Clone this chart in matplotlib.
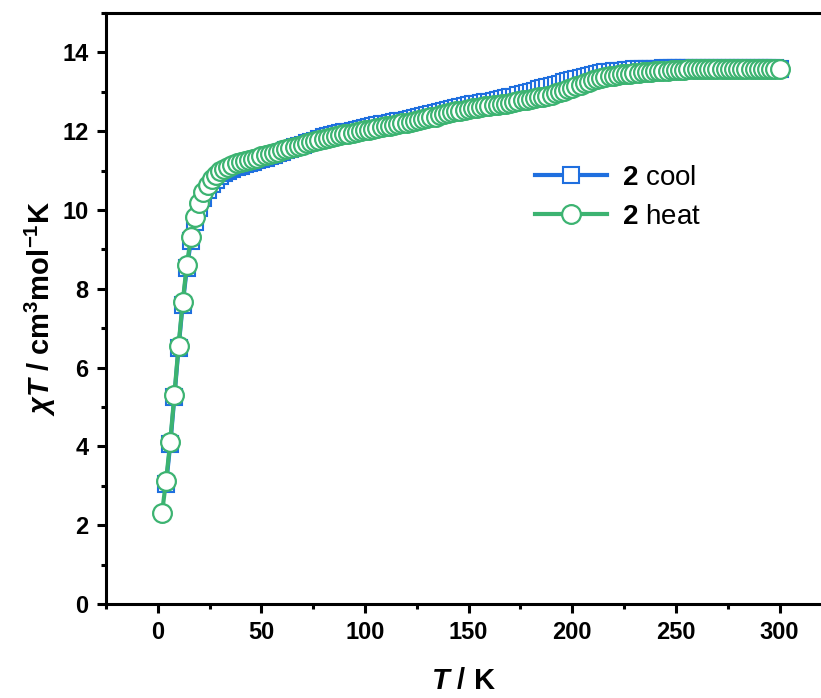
import numpy as np
import matplotlib
matplotlib.use("Agg")
import matplotlib.pyplot as plt
from matplotlib.ticker import MultipleLocator

plt.rcParams["font.family"] = ["Liberation Sans", "DejaVu Sans"]
plt.rcParams["mathtext.fontset"] = "custom"
plt.rcParams["mathtext.rm"] = "Liberation Sans:bold"
plt.rcParams["mathtext.bf"] = "Liberation Sans:bold"
plt.rcParams["mathtext.it"] = "Liberation Sans:bold:italic"

# measured temperature grid (K)
t_heat = np.arange(2, 301, 2)
t_cool = np.arange(4, 301, 2)

# chi*T (cm3 mol-1 K)
chiT_heat = [
    2.30, 3.13, 4.12, 5.31, 6.55, 7.66, 8.60, 9.32, 9.81, 10.18,
    10.45, 10.63, 10.78, 10.90, 10.99, 11.05, 11.10, 11.14, 11.18, 11.21,
    11.24, 11.27, 11.30, 11.33, 11.36, 11.39, 11.42, 11.45, 11.48, 11.51,
    11.54, 11.57, 11.60, 11.63, 11.66, 11.69, 11.72, 11.75, 11.78, 11.81,
    11.83, 11.86, 11.88, 11.90, 11.92, 11.94, 11.96, 11.98, 12.00, 12.02,
    12.04, 12.06, 12.08, 12.10, 12.12, 12.14, 12.16, 12.18, 12.20, 12.22,
    12.24, 12.26, 12.28, 12.30, 12.33, 12.35, 12.37, 12.40, 12.43, 12.46,
    12.48, 12.50, 12.52, 12.54, 12.56, 12.58, 12.60, 12.61, 12.63, 12.64,
    12.66, 12.67, 12.69, 12.70, 12.72, 12.74, 12.76, 12.78, 12.80, 12.82,
    12.84, 12.86, 12.88, 12.90, 12.93, 12.96, 12.99, 13.02, 13.06, 13.10,
    13.14, 13.18, 13.22, 13.26, 13.29, 13.32, 13.35, 13.37, 13.39, 13.41,
    13.43, 13.44, 13.45, 13.46, 13.47, 13.48, 13.49, 13.50, 13.51, 13.52,
    13.53, 13.54, 13.54, 13.55, 13.55, 13.56, 13.56, 13.57, 13.57, 13.57,
    13.58, 13.58, 13.58, 13.58, 13.58, 13.58, 13.58, 13.58, 13.58, 13.58,
    13.58, 13.58, 13.59, 13.59, 13.59, 13.59, 13.59, 13.59, 13.59, 13.59,
]
chiT_cool = [
    3.05, 4.05, 5.25, 6.50, 7.60, 8.52, 9.22, 9.70, 10.05,
    10.30, 10.50, 10.65, 10.77, 10.86, 10.93, 10.99, 11.04, 11.08, 11.12,
    11.17, 11.20, 11.23, 11.26, 11.29, 11.33, 11.36, 11.40, 11.44, 11.47,
    11.51, 11.55, 11.59, 11.62, 11.66, 11.69, 11.73, 11.76, 11.80, 11.84,
    11.87, 11.90, 11.92, 11.95, 11.97, 11.99, 12.01, 12.04, 12.06, 12.08,
    12.11, 12.13, 12.15, 12.17, 12.19, 12.21, 12.23, 12.25, 12.27, 12.29,
    12.32, 12.34, 12.36, 12.39, 12.41, 12.43, 12.46, 12.48, 12.51, 12.54,
    12.57, 12.59, 12.61, 12.64, 12.66, 12.68, 12.70, 12.72, 12.74, 12.75,
    12.77, 12.79, 12.81, 12.83, 12.86, 12.88, 12.91, 12.94, 12.97, 13.00,
    13.03, 13.06, 13.09, 13.12, 13.15, 13.18, 13.21, 13.24, 13.27, 13.30,
    13.33, 13.36, 13.38, 13.41, 13.43, 13.45, 13.47, 13.49, 13.50, 13.52,
    13.53, 13.54, 13.55, 13.56, 13.57, 13.57, 13.58, 13.58, 13.59, 13.59,
    13.59, 13.60, 13.60, 13.60, 13.60, 13.60, 13.60, 13.60, 13.60, 13.60,
    13.60, 13.60, 13.60, 13.60, 13.60, 13.60, 13.60, 13.60, 13.60, 13.60,
    13.60, 13.60, 13.60, 13.60, 13.60, 13.60, 13.60, 13.60, 13.60, 13.58,
]

blue = "#1f6fdf"
green = "#3cb371"

fig = plt.figure(figsize=(8.21, 6.98), dpi=100)
ax = fig.add_axes([0.1291, 0.1347, 0.8709, 0.8467])

ax.plot(t_cool, chiT_cool, "-s", color=blue, lw=3, ms=12, mew=1.5,
        mfc="white", mec=blue, label=r"$\mathbf{2}$ cool")
ax.plot(t_heat, chiT_heat, "-o", color=green, lw=3, ms=13.5, mew=1.6,
        mfc="white", mec=green, label=r"$\mathbf{2}$ heat")

ax.set_xlim(-25, 320)
ax.set_ylim(0, 15)
ax.xaxis.set_major_locator(MultipleLocator(50))
ax.xaxis.set_minor_locator(MultipleLocator(25))
ax.yaxis.set_major_locator(MultipleLocator(2))
ax.yaxis.set_minor_locator(MultipleLocator(1))

for s in ["left", "bottom", "top"]:
    ax.spines[s].set_linewidth(2.2)
ax.spines["right"].set_visible(False)
ax.tick_params(which="major", direction="out", length=6.5, width=2.2,
               labelsize=17, pad=6)
ax.tick_params(which="minor", direction="out", length=3.5, width=2.2)
ax.tick_params(top=False, right=False, which="both")
for lab in ax.get_xticklabels() + ax.get_yticklabels():
    lab.set_fontweight("bold")

ax.set_xlabel(r"$T$ / K", fontsize=21, fontweight="bold", labelpad=16)
ax.set_ylabel(r"$\chi T$ / cm$^3$mol$^{-1}$K", fontsize=21,
              fontweight="bold", labelpad=3)

ax.legend(loc="center left", bbox_to_anchor=(0.6, 0.688), frameon=False,
          fontsize=20, handlelength=2.6, handletextpad=0.55,
          labelspacing=0.45, borderpad=0, borderaxespad=0)

fig.savefig("out.png", dpi=100)
